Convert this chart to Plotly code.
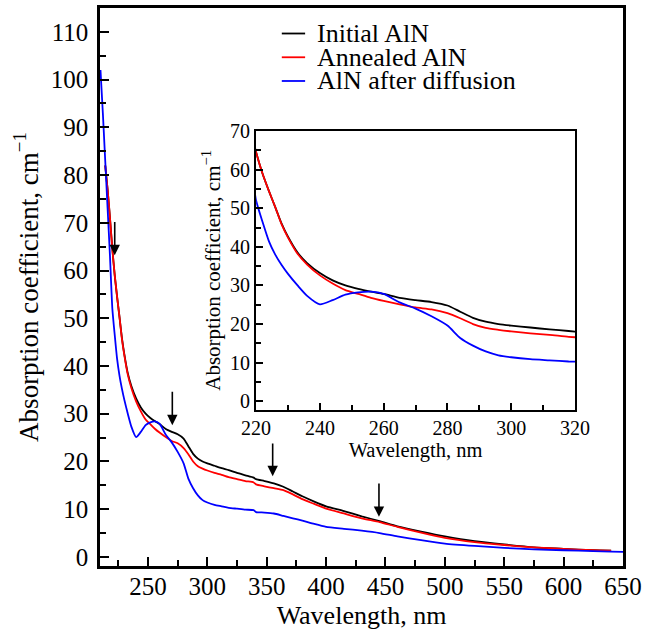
import plotly.graph_objects as go

# ---- data ----
wavelength = [210, 212, 214, 216, 218, 220, 222, 224, 226, 228, 230, 233, 236, 240, 244, 248,
              252, 256, 260, 265, 270, 275, 280, 284, 288, 292, 296, 300, 306, 312, 318, 325,
              332, 339, 341, 348, 356, 364, 372, 380, 390, 400, 415, 430, 445, 460, 480, 500,
              525, 550, 575, 600, 625, 640, 650]

initial_aln = [None, None, 82, 77, 71, 64.5, 59, 54.5, 50.3, 46, 42.6, 38.5, 35.8, 33.2, 31.3, 30.0,
               29.1, 28.4, 27.8, 26.8, 26.2, 25.7, 24.8, 23.2, 21.6, 20.6, 20.0, 19.6, 19.1, 18.6, 18.2, 17.6,
               17.1, 16.6, 16.3, 15.9, 15.4, 14.7, 13.7, 12.7, 11.6, 10.6, 9.6, 8.5, 7.5, 6.4, 5.3, 4.3,
               3.3, 2.6, 2.0, 1.7, 1.4, 1.3, None]

annealed_aln = [None, None, 82, 77, 71, 64.5, 59, 54.5, 50.3, 45.8, 42.4, 38.2, 35.4, 32.6, 30.5, 28.8,
                27.8, 26.8, 26.0, 25.1, 24.3, 23.8, 22.8, 21.5, 20.0, 19.0, 18.5, 18.1, 17.6, 17.2, 16.7, 16.3,
                15.9, 15.6, 15.2, 14.8, 14.4, 14.0, 13.1, 12.1, 11.1, 10.1, 9.1, 8.1, 7.3, 6.3, 5.1, 4.0,
                3.1, 2.5, 2.0, 1.7, 1.4, 1.3, None]

aln_after_diffusion = [102, 93, 83, 73, 63, 52, 46.5, 41.5, 38, 35.3, 33, 30, 27.3, 25.1, 26.2, 27.6,
                       28.2, 28.4, 27.8, 25.6, 24.0, 22.0, 19.6, 16.4, 14.4, 12.9, 11.9, 11.4, 10.9, 10.6, 10.3, 10.1,
                       9.9, 9.8, 9.4, 9.3, 9.1, 8.6, 8.1, 7.6, 6.9, 6.3, 5.9, 5.5, 5.0, 4.3, 3.5, 2.8,
                       2.3, 1.9, 1.6, 1.4, 1.2, 1.1, 1.05]

series_names = ["Initial AlN", "Annealed AlN", "AlN after diffusion"]
series_colors = ["#000000", "#ff0000", "#0000ff"]

# arrows marking features: x, tail y, tip y
arrow_x = [222, 270.5, 355, 444.5]
arrow_tail_y = [70.5, 34.9, 24.1, 15.7]
arrow_tip_y = [63.2, 27.6, 16.9, 8.4]

main_x_ticks = [250, 300, 350, 400, 450, 500, 550, 600, 650]
main_y_ticks = [0, 10, 20, 30, 40, 50, 60, 70, 80, 90, 100, 110]
inset_x_ticks = [220, 240, 260, 280, 300, 320]
inset_y_ticks = [0, 10, 20, 30, 40, 50, 60, 70]

FONT = "'Liberation Serif', 'Times New Roman', Tinos, 'DejaVu Serif', serif"

fig = go.Figure()
all_series = [initial_aln, annealed_aln, aln_after_diffusion]
for name, col, ys in zip(series_names, series_colors, all_series):
    fig.add_trace(go.Scatter(x=wavelength, y=ys, mode="lines", name=name,
                             line=dict(color=col, width=1.8, shape="spline", smoothing=0.6),
                             showlegend=False, xaxis="x", yaxis="y"))
# inset traces
for name, col, ys in zip(series_names, series_colors, all_series):
    fig.add_trace(go.Scatter(x=wavelength, y=ys, mode="lines", name=name,
                             line=dict(color=col, width=1.8, shape="spline", smoothing=0.6),
                             showlegend=False, xaxis="x2", yaxis="y2"))

axis_common = dict(showline=True, linecolor="black", mirror=True, ticks="inside",
                   tickcolor="black", showgrid=False, zeroline=False, automargin=False)

fig.update_layout(
    width=655, height=632,
    margin=dict(l=100, r=32, t=8, b=66, autoexpand=False),
    paper_bgcolor="white", plot_bgcolor="white",
    font=dict(family=FONT, color="black"),
    xaxis=dict(**axis_common, range=[209.6, 650], domain=[0, 1], linewidth=2.5,
               tickvals=main_x_ticks, ticklen=9, tickwidth=1.8,
               minor=dict(dtick=25, tick0=200, ticks="inside", ticklen=6, tickwidth=1.8, tickcolor="black"),
               tickfont=dict(size=25, family=FONT), ticklabelstandoff=-4,
               title=dict(text="Wavelength, nm", font=dict(size=26, family=FONT), standoff=8)),
    yaxis=dict(**axis_common, range=[-1.9, 115], domain=[0, 1], linewidth=2.5,
               tickvals=main_y_ticks, ticklen=9, tickwidth=1.8,
               minor=dict(dtick=5, tick0=0, ticks="inside", ticklen=6, tickwidth=1.8, tickcolor="black"),
               tickfont=dict(size=25, family=FONT), ticklabelstandoff=4,
               title=dict(text="Absorption coefficient, cm<sup>−1</sup>", font=dict(size=27, family=FONT), standoff=5)),
    xaxis2=dict(**axis_common, anchor="y2", range=[220, 320], domain=[0.2985, 0.9082], linewidth=2,
                tickvals=inset_x_ticks, ticklen=7, tickwidth=1.5,
                minor=dict(dtick=10, tick0=220, ticks="inside", ticklen=5, tickwidth=1.5, tickcolor="black"),
                tickfont=dict(size=20, family=FONT), ticklabelstandoff=-1,
                title=dict(text="Wavelength, nm", font=dict(size=20.5, family=FONT), standoff=4)),
    yaxis2=dict(**axis_common, anchor="x2", range=[-2.15, 70], domain=[0.2804, 0.7795], linewidth=2,
                tickvals=inset_y_ticks, ticklen=7, tickwidth=1.5,
                minor=dict(dtick=5, tick0=0, ticks="inside", ticklen=5, tickwidth=1.5, tickcolor="black"),
                tickfont=dict(size=20, family=FONT), ticklabelstandoff=0,
                title=dict(text="Absorption coefficient, cm<sup>−1</sup>", font=dict(size=21, family=FONT), standoff=4)),
)

# arrows
for ax_, tail, tip in zip(arrow_x, arrow_tail_y, arrow_tip_y):
    fig.add_annotation(x=ax_, y=tip, ax=ax_, ay=tail, xref="x", yref="y", axref="x", ayref="y",
                       text="", showarrow=True, arrowhead=2, arrowsize=1.3, arrowwidth=1.6,
                       arrowcolor="black")

# manual legend
legend_y = [0.9543, 0.9117, 0.8692]
for name, col, ly in zip(series_names, series_colors, legend_y):
    fig.add_shape(type="line", xref="paper", yref="paper", x0=0.3476, x1=0.3922, y0=ly, y1=ly,
                  line=dict(color=col, width=1.8))
    fig.add_annotation(x=0.4132, y=ly, xref="paper", yref="paper", text=name, showarrow=False,
                       xanchor="left", yanchor="middle", height=23, valign="middle", borderpad=0,
                       font=dict(size=26, family=FONT, color="black"))

fig.write_html("out.html", config={"displayModeBar": False},
               post_script="document.body.style.margin='0';")
